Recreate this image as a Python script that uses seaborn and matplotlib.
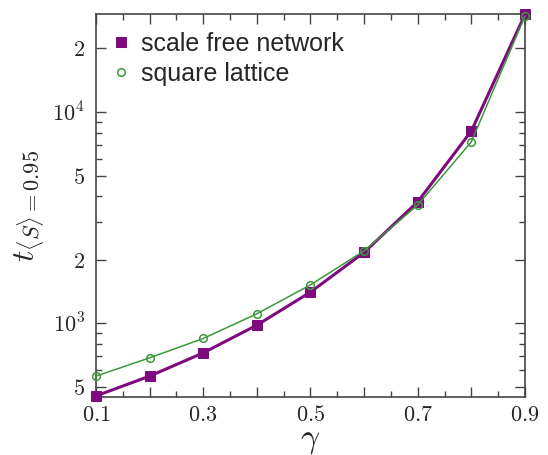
import matplotlib
matplotlib.use("Agg")
import numpy as np
import pandas as pd
import matplotlib.pyplot as plt
import matplotlib.ticker as mticker
import seaborn as sns

gamma = [0.1, 0.2, 0.3, 0.4, 0.5, 0.6, 0.7, 0.8, 0.9]
t_scale_free = [452, 561, 723, 978, 1403, 2163, 3756, 8130, 29000]
t_square = [561, 685, 846, 1107, 1518, 2200, 3626, 7230, 28500]

ytick_vals = [500, 1000, 2000, 5000, 10000, 20000]
ytick_labels = [r"$\mathbf{5}$", r"$10^3$", r"$\mathbf{2}$", r"$\mathbf{5}$", r"$10^4$", r"$\mathbf{2}$"]
xtick_vals = [0.1, 0.3, 0.5, 0.7, 0.9]

df = pd.DataFrame({
    "gamma": gamma * 2,
    "t": t_scale_free + t_square,
    "series": ["scale free network"] * len(gamma) + ["square lattice"] * len(gamma),
})

sns.set_style("ticks")
plt.rcParams["mathtext.fontset"] = "cm"
plt.rcParams["font.family"] = ["Liberation Sans", "DejaVu Sans"]

fig = plt.figure(figsize=(5.48, 4.55), dpi=100)
ax = fig.add_axes([0.175, 0.1275, 0.783, 0.8415])

purple = "#7f0a80"
green = "#3a9a3a"

sf = df[df["series"] == "scale free network"]
sq = df[df["series"] == "square lattice"]
sns.lineplot(data=sf, x="gamma", y="t", ax=ax, color=purple, lw=2.2,
             marker="s", markersize=6.5, markeredgecolor=purple,
             label="scale free network", zorder=3)
sns.lineplot(data=sq, x="gamma", y="t", ax=ax, color=green, lw=1.1,
             marker="o", markersize=5.5, markerfacecolor="none",
             markeredgecolor=green, markeredgewidth=1.1,
             label="square lattice", zorder=4)
for l in ax.lines:
    l.set_clip_on(False)

ax.set_yscale("log")
ax.set_xlim(0.1, 0.9)
ax.set_ylim(447, 29100)

ax.yaxis.set_major_locator(mticker.FixedLocator(ytick_vals))
ax.yaxis.set_major_formatter(mticker.FixedFormatter(ytick_labels))
ax.yaxis.set_minor_locator(mticker.LogLocator(base=10, subs=np.arange(1, 10)))
ax.yaxis.set_minor_formatter(mticker.NullFormatter())

ax.xaxis.set_minor_locator(mticker.MultipleLocator(0.05))
ax.set_xticks(gamma)
ax.set_xticklabels([rf"$\mathbf{{{g:.1f}}}$" if g in xtick_vals else "" for g in gamma])

ax.tick_params(which="both", direction="in", top=True, right=True,
               color="#444444", labelsize=16)
ax.tick_params(which="major", length=7, width=1.0)
ax.tick_params(which="minor", length=4, width=1.0)
ax.tick_params(axis="x", pad=6)
ax.tick_params(axis="y", pad=8)
for s in ax.spines.values():
    s.set_color("#444444")
    s.set_linewidth(1.2)

ax.set_xlabel(r"$\gamma$", fontsize=24, labelpad=-1)
ax.set_ylabel(r"$t_{\langle S\rangle=0.95}$", fontsize=23, labelpad=4)

leg = ax.legend(loc="upper left", frameon=False, fontsize=18,
                handlelength=0.6, handletextpad=0.5, borderaxespad=0.3,
                labelspacing=0.25, borderpad=0.4)
for h in leg.legend_handles:
    h.set_linestyle("none")

fig.savefig("out.png", dpi=100)
